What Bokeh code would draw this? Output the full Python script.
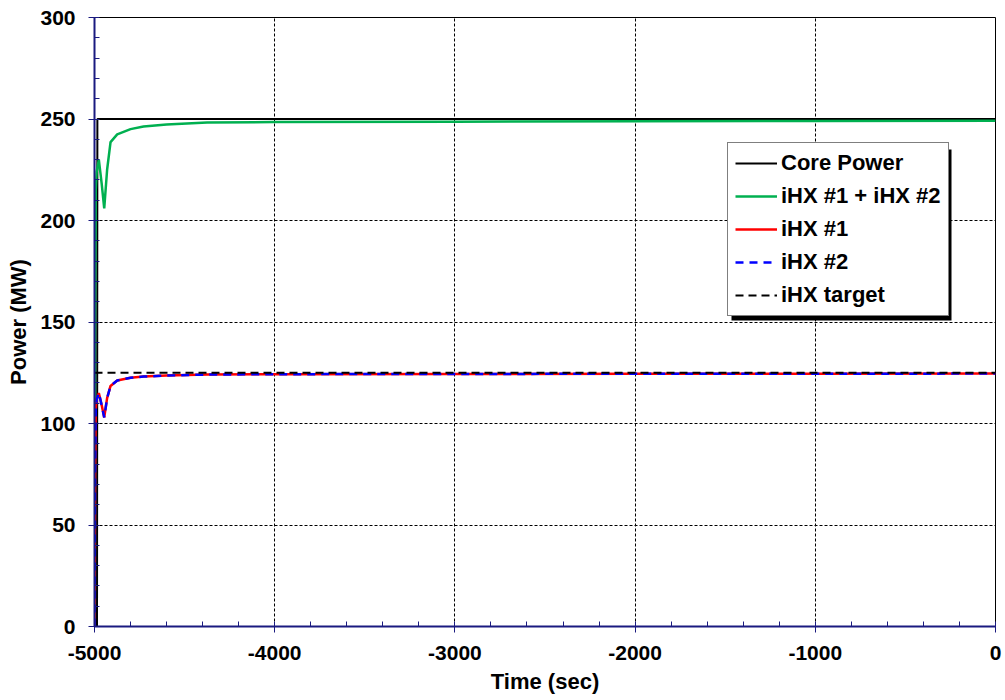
from bokeh.plotting import figure
from bokeh.models import Range1d, Legend, LegendItem, BoxAnnotation, FixedTicker, CustomJSTickFormatter
from bokeh.embed import file_html
from bokeh.resources import INLINE

# ---- data ----
core_time = [-5000, -4986, -4984, 0]
core_power = [0, 0, 250, 250]

ihx_time = [-5000, -4997, -4993, -4988, -4976, -4960, -4946, -4930, -4911,
            -4874, -4800, -4728, -4600, -4375, -4000, -3000, -2000, -1000, 0]
ihx_sum = [0, 150, 215, 224, 230, 218, 206, 225, 238.6,
           242.4, 245.0, 246.3, 247.3, 248.3, 248.5, 248.7, 248.9, 249.0, 249.1]
ihx1 = [0, 75, 107, 112, 115, 109, 103, 112.5, 118.5,
        121.2, 122.5, 123.1, 123.6, 124.1, 124.3, 124.4, 124.5, 124.5, 124.6]
ihx2 = [0, 75, 107, 112, 115, 109, 103, 112.5, 118.5,
        121.2, 122.5, 123.1, 123.6, 124.1, 124.3, 124.4, 124.5, 124.5, 124.6]
target_time = [-5000, 0]
target_power = [125, 125]

x_ticks = [-5000, -4000, -3000, -2000, -1000, 0]
y_ticks = [0, 50, 100, 150, 200, 250, 300]

FONT = "Liberation Sans"
NAVY = "#1a1a80"

p = figure(width=1005, height=700, output_backend="svg", toolbar_location=None,
           x_range=Range1d(-5000, 0), y_range=Range1d(0, 300),
           min_border_left=94, min_border_right=10, min_border_top=17, min_border_bottom=74)
p.background_fill_color = "white"
p.border_fill_color = "white"
p.outline_line_color = "black"
p.outline_line_width = 1

# grids
for g in (p.xgrid, p.ygrid):
    g.grid_line_color = "black"
    g.grid_line_dash = "3 2"
    g.grid_line_width = 1
p.xgrid.ticker = FixedTicker(ticks=x_ticks)
p.ygrid.ticker = FixedTicker(ticks=y_ticks)

# axes
p.xaxis.ticker = FixedTicker(ticks=x_ticks, minor_ticks=list(range(-5000, 1, 200)))
p.yaxis.ticker = FixedTicker(ticks=y_ticks, minor_ticks=list(range(0, 301, 10)))
p.xaxis.bounds = (x_ticks[0], x_ticks[-1])
p.yaxis.bounds = (y_ticks[0], y_ticks[-1])
fmt = CustomJSTickFormatter(code="return String(Math.round(tick));")
p.xaxis.formatter = fmt
p.yaxis.formatter = fmt
for ax in (p.xaxis, p.yaxis):
    ax.axis_line_color = NAVY
    ax.axis_line_width = 2
    ax.major_tick_line_color = NAVY
    ax.minor_tick_line_color = NAVY
    ax.major_tick_in = 0
    ax.major_tick_out = 6
    ax.minor_tick_in = 5
    ax.minor_tick_out = 0
    ax.major_label_text_font = FONT
    ax.major_label_text_font_style = "bold"
    ax.major_label_text_font_size = "21px"
    ax.major_label_text_color = "black"
    ax.axis_label_text_font = FONT
    ax.axis_label_text_font_style = "bold"
    ax.axis_label_text_font_size = "22px"
    ax.axis_label_text_color = "black"
p.xaxis.axis_label = "Time (sec)"
p.yaxis.axis_label = "Power (MW)"
p.xaxis.major_label_standoff = 13
p.yaxis.major_label_standoff = 13
p.xaxis.axis_label_standoff = 6
p.yaxis.axis_label_standoff = 6

# lines
r_core = p.line(core_time, core_power, line_color="black", line_width=2)
r_sum = p.line(ihx_time, ihx_sum, line_color="#00B050", line_width=2.5)
r_1 = p.line(ihx_time, ihx1, line_color="#FF0000", line_width=2.5)
r_2 = p.line(ihx_time, ihx2, line_color="#0000FF", line_width=2.5, line_dash="8 6")
r_t = p.line(target_time, target_power, line_color="black", line_width=2, line_dash="8 5")

# legend shadow
shadow = BoxAnnotation(left=637, right=857, bottom=306, top=477,
                       left_units="screen", right_units="screen",
                       bottom_units="screen", top_units="screen",
                       fill_color="black", fill_alpha=1, line_color=None, level="overlay")
p.add_layout(shadow)

legend = Legend(items=[
    LegendItem(label="Core Power", renderers=[r_core]),
    LegendItem(label="iHX #1 + iHX #2", renderers=[r_sum]),
    LegendItem(label="iHX #1", renderers=[r_1]),
    LegendItem(label="iHX #2", renderers=[r_2]),
    LegendItem(label="iHX target", renderers=[r_t]),
], location=(633, 310))
legend.label_text_font = FONT
legend.label_text_font_style = "bold"
legend.label_text_font_size = "22px"
legend.label_text_color = "black"
legend.glyph_width = 42
legend.glyph_height = 20
legend.label_height = 20
legend.spacing = 7
legend.padding = 7
legend.margin = 0
legend.label_standoff = 4
legend.border_line_color = "black"
legend.border_line_width = 1.5
legend.background_fill_color = "white"
legend.background_fill_alpha = 1
p.add_layout(legend, "center")

open("out.html", "w").write(file_html(p, INLINE))
